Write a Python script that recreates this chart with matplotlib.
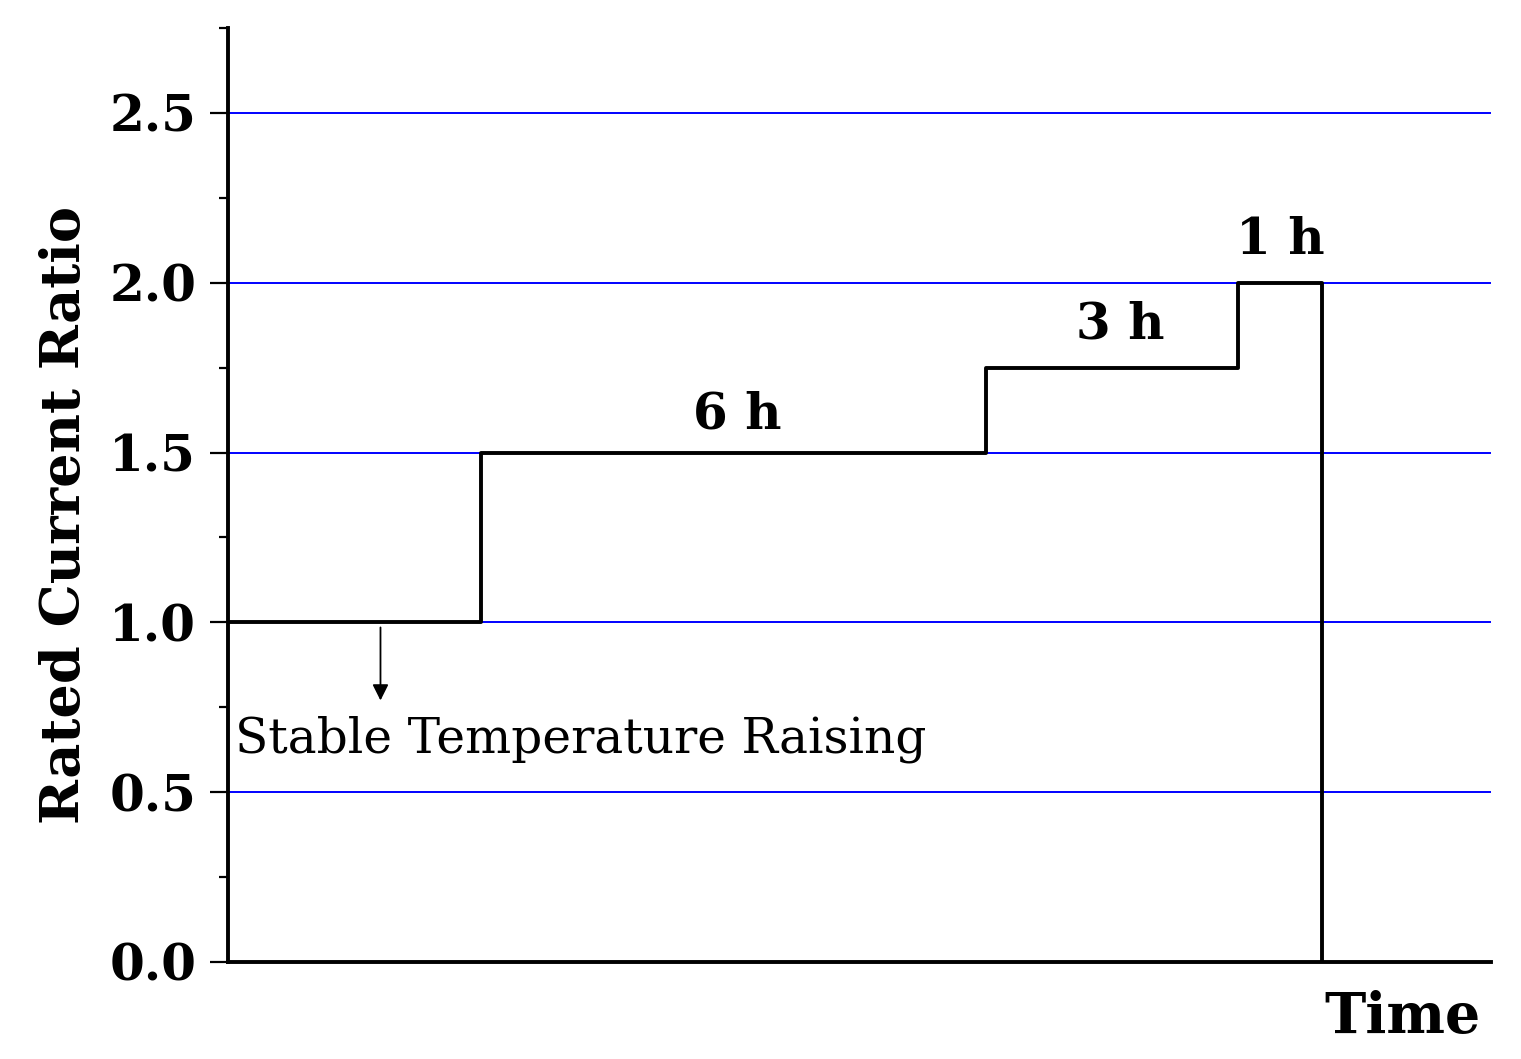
import matplotlib.pyplot as plt
from matplotlib.ticker import MultipleLocator

# step profile: time (h) where each level starts, and the level
times = [0, 3, 9, 12, 13]
ratios = [1.0, 1.5, 1.75, 2.0, 0.0]
grid_levels = [0.5, 1.0, 1.5, 2.0, 2.5]
yticks = [0.0, 0.5, 1.0, 1.5, 2.0, 2.5]
duration_labels = ["6 h", "3 h", "1 h"]
duration_x = [6.05, 10.6, 12.5]
duration_y = [1.61, 1.875, 2.125]

plt.rcParams['font.family'] = ['DejaVu Serif']

fig = plt.figure(figsize=(15.21, 10.59), dpi=100)
ax = fig.add_axes([0.15, 0.0916, 0.83, 0.882])

for lv in grid_levels:
    ax.axhline(lv, color='#0000ff', lw=1.4, zorder=1)

ax.plot(times, ratios, drawstyle='steps-post', color='black', lw=2.8, zorder=3)

for lab, x, y in zip(duration_labels, duration_x, duration_y):
    ax.text(x, y, lab, ha='center', va='center', fontsize=36, fontweight='bold')

ax.annotate('', xy=(1.81, 0.77), xytext=(1.81, 0.985),
            arrowprops=dict(arrowstyle='-|>', color='black', lw=1.3,
                            mutation_scale=24, shrinkA=0, shrinkB=0))
ax.text(0.08, 0.655, 'Stable Temperature Raising', ha='left', va='center', fontsize=35)

ax.set_xlim(0, 15)
ax.set_ylim(0, 2.75)
ax.set_yticks(yticks)
ax.set_yticklabels([f'{v:.1f}' for v in yticks])
ax.yaxis.set_minor_locator(MultipleLocator(0.25))
ax.set_xticks([])

for s in ['top', 'right']:
    ax.spines[s].set_visible(False)
for s in ['left', 'bottom']:
    ax.spines[s].set_linewidth(2.8)

ax.tick_params(axis='y', which='major', direction='out', length=13, width=1.6,
               labelsize=36, pad=10)
ax.tick_params(axis='y', which='minor', direction='out', length=6.5, width=1.6)
for t in ax.get_yticklabels():
    t.set_fontweight('bold')

ax.set_ylabel('Rated Current Ratio', fontsize=39, fontweight='bold')
ax.yaxis.set_label_coords(-0.109, 0.479)
ax.text(0.992, -0.03, 'Time', transform=ax.transAxes, ha='right', va='top',
        fontsize=40, fontweight='bold')

fig.savefig('out.png', dpi=100)
